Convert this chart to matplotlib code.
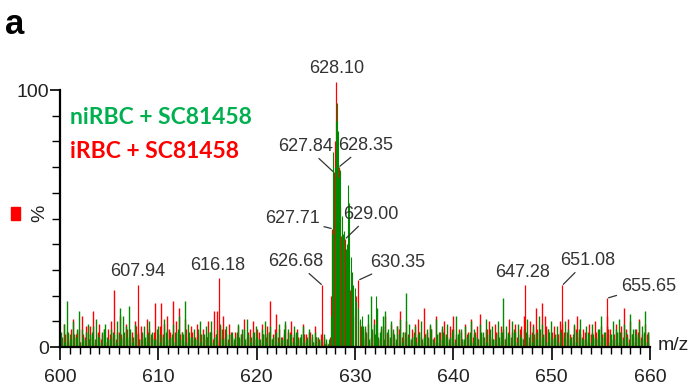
import numpy as np
import matplotlib
matplotlib.use("Agg")
import matplotlib.pyplot as plt
from matplotlib.ticker import MultipleLocator, FixedLocator

# baseline noise, one value every 0.3 m/z starting at 600.1 (% relative intensity)
mz_grid = 600.1 + 0.3 * np.arange(200)
# lower-level noise in between, starting at 600.25
mz_fill = 600.25 + 0.3 * np.arange(200)

red_noise = [
    4, 9, 6, 3, 11, 5, 7, 12, 4, 8,
    8, 14, 3, 9, 5, 2, 7, 10, 22, 6,
    12, 4, 9, 3, 6, 10, 5, 8, 3, 11,
    7, 4, 17, 5, 17, 9, 12, 6, 18, 10,
    15, 6, 11, 4, 8, 3, 9, 5, 7, 4,
    10, 6, 14, 14, 8, 12, 5, 9, 4, 6,
    8, 5, 11, 4, 7, 10, 3, 6, 9, 5,
    8, 18, 5, 13, 7, 4, 9, 6, 10, 5,
    7, 3, 9, 5, 6, 4, 8, 3, 5, 4,
    2, 1, 0, 0, 0, 0, 0, 0, 0, 0,
    0, 0, 0, 7, 9, 4, 11, 6, 3, 8,
    12, 5, 9, 4, 8, 14, 6, 10, 3, 7,
    9, 11, 4, 15, 6, 8, 3, 12, 5, 7,
    10, 4, 8, 12, 5, 7, 3, 9, 6, 11,
    5, 8, 13, 4, 7, 10, 3, 9, 6, 8,
    7, 4, 11, 6, 9, 3, 8, 12, 5, 10,
    9, 15, 6, 17, 12, 7, 4, 8, 5, 10,
    9, 6, 11, 4, 8, 12, 5, 7, 3, 9,
    6, 10, 4, 8, 5, 12, 7, 3, 9, 6,
    8, 15, 5, 10, 4, 7, 11, 5, 9, 6,
]

green_noise = [
    6, 9, 18, 5, 10, 4, 14, 7, 3, 9,
    5, 8, 11, 4, 6, 9, 3, 7, 5, 10,
    15, 12, 8, 16, 4, 9, 6, 3, 8, 5,
    10, 6, 3, 8, 5, 11, 7, 4, 9, 6,
    12, 6, 18, 9, 4, 7, 3, 10, 5, 8,
    6, 10, 4, 7, 9, 3, 8, 5, 6, 4,
    9, 5, 7, 11, 4, 6, 8, 3, 7, 10,
    5, 8, 4, 6, 9, 3, 10, 7, 5, 8,
    6, 4, 8, 3, 7, 5, 6, 4, 3, 5,
    3, 2, 0, 0, 0, 0, 0, 0, 0, 0,
    0, 0, 0, 8, 13, 20, 9, 15, 6, 12,
    14, 7, 10, 5, 8, 11, 6, 21, 9, 4,
    8, 5, 10, 4, 7, 9, 3, 11, 6, 8,
    5, 9, 4, 7, 12, 6, 3, 8, 5, 10,
    7, 4, 9, 6, 11, 5, 8, 3, 10, 6,
    19, 8, 5, 10, 6, 9, 4, 7, 11, 5,
    8, 6, 12, 9, 5, 7, 10, 4, 8, 6,
    5, 10, 7, 4, 9, 6, 11, 3, 8, 5,
    9, 4, 7, 12, 6, 8, 5, 10, 7, 11,
    6, 9, 4, 13, 7, 5, 10, 8, 14, 6,
]

red_fill = [
    3, 5, 2, 7, 4, 6, 2, 5, 8, 3,
    4, 2, 6, 3, 7, 2, 5, 4, 3, 6,
    5, 3, 7, 2, 4, 8, 3, 5, 2, 6,
    4, 6, 3, 8, 5, 2, 7, 4, 6, 3,
    5, 2, 7, 3, 6, 4, 2, 5, 3, 4,
    6, 3, 5, 2, 4, 7, 3, 6, 2, 5,
    3, 5, 2, 6, 4, 3, 7, 2, 5, 4,
    6, 3, 7, 4, 2, 5, 3, 6, 4, 2,
    4, 2, 5, 3, 6, 2, 4, 3, 2, 1,
    1, 0, 0, 0, 0, 0, 0, 0, 0, 0,
    0, 0, 3, 5, 2, 6, 4, 3, 7, 2,
    5, 3, 6, 2, 7, 4, 3, 5, 2, 6,
    4, 6, 2, 5, 3, 7, 4, 2, 6, 3,
    5, 2, 7, 3, 4, 6, 2, 5, 3, 4,
    6, 3, 5, 2, 7, 4, 3, 6, 2, 5,
    3, 5, 2, 6, 4, 7, 3, 5, 2, 6,
    4, 7, 3, 5, 8, 2, 6, 3, 5, 4,
    6, 3, 5, 2, 7, 4, 3, 6, 2, 5,
    3, 6, 2, 5, 4, 7, 3, 5, 2, 6,
    4, 7, 3, 5, 2, 6, 4, 3, 5, 2,
]

green_fill = [
    4, 2, 6, 3, 5, 7, 2, 4, 6, 3,
    6, 3, 5, 2, 7, 4, 3, 6, 2, 5,
    3, 6, 4, 7, 2, 5, 3, 6, 4, 2,
    5, 3, 7, 2, 4, 6, 3, 5, 2, 7,
    3, 5, 2, 6, 4, 3, 7, 2, 5, 4,
    6, 2, 5, 3, 7, 4, 2, 5, 3, 6,
    4, 7, 3, 5, 2, 6, 4, 3, 5, 2,
    6, 3, 5, 2, 4, 7, 3, 5, 2, 6,
    3, 5, 2, 4, 3, 2, 4, 2, 1, 1,
    1, 0, 0, 0, 0, 0, 0, 0, 0, 0,
    0, 0, 4, 6, 3, 7, 5, 4, 8, 3,
    6, 4, 7, 3, 5, 2, 6, 4, 3, 5,
    2, 6, 3, 5, 4, 7, 2, 5, 3, 6,
    4, 3, 6, 2, 5, 7, 3, 4, 6, 2,
    5, 3, 6, 4, 2, 7, 3, 5, 4, 6,
    3, 6, 4, 7, 2, 5, 3, 6, 4, 2,
    5, 3, 7, 4, 2, 6, 3, 5, 2, 7,
    4, 6, 3, 5, 2, 7, 4, 3, 6, 2,
    5, 3, 7, 4, 6, 2, 5, 3, 6, 4,
    3, 6, 2, 5, 7, 4, 3, 6, 2, 5,
]

# isotope cluster and labelled peaks
red_mz = [607.94, 616.18, 626.68, 627.45, 627.60, 627.71, 627.84, 627.92, 628.00,
          628.10, 628.20, 628.35, 628.45, 628.60, 628.70, 628.81, 628.90, 629.00,
          629.10, 629.20, 629.35, 629.50, 629.65, 629.80, 629.95, 630.10, 630.35,
          630.50, 630.65, 630.80, 647.28, 651.08, 655.65]
red_int = [24, 27, 24, 4, 20, 46, 68, 62, 80,
           103, 72, 70, 55, 43, 38, 40, 30, 42,
           34, 25, 30, 22, 18, 15, 12, 20, 26,
           10, 8, 6, 24, 24, 19]

green_mz = [627.40, 627.53, 627.69, 627.80, 627.95, 628.05, 628.13, 628.25, 628.40,
            628.50, 628.64, 628.75, 628.92, 629.05, 629.15, 629.26, 629.42, 629.55,
            629.66, 629.80, 630.00, 630.15, 630.30, 630.50, 630.68, 630.85, 632.09]
green_int = [3, 12, 44, 76, 70, 88, 95, 84, 66,
             69, 51, 44, 45, 38, 40, 63, 56, 35,
             29, 24, 23, 18, 15, 11, 12, 8, 20]

labelled = [628.10, 627.84, 628.35, 627.71, 629.00, 626.68, 630.35,
            607.94, 616.18, 647.28, 651.08, 655.65]
# text offsets in pixels from the peak tip; leader line when flagged
label_offsets = [(0, 14, False), (-28, 26, True), (27, 22, True), (-40, 10, True),
                 (26, 25, True), (-27, 24, True), (39, 18, True),
                 (0, 14, False), (-1, 12, False), (-2, 13, False),
                 (25, 25, True), (41, 12, True)]

RED = "#ff0000"
GREEN = "#008a00"
TXT = "#333333"

fig = plt.figure(figsize=(6.92, 3.89), dpi=100)
ax = fig.add_axes([60 / 692, 42 / 389, 590 / 692, 272.4 / 389])

ax.vlines(mz_fill, 0, red_fill, color=RED, lw=1.0, zorder=2)
ax.vlines(mz_fill, 0, green_fill, color=GREEN, lw=1.0, zorder=2)
ax.vlines(mz_grid, 0, red_noise, color=RED, lw=1.0, zorder=2)
ax.vlines(mz_grid, 0, green_noise, color=GREEN, lw=1.0, zorder=3)
ax.vlines(red_mz, 0, red_int, color=RED, lw=0.9, zorder=3)
ax.vlines(green_mz, 0, green_int, color=GREEN, lw=0.8, zorder=3.5)

peak_lookup = dict(zip(red_mz, red_int))
peak_lookup.update({m: v for m, v in zip(green_mz, green_int) if m not in peak_lookup})
for mz, (dx, dy, leader) in zip(labelled, label_offsets):
    arrow = dict(arrowstyle="-", color=TXT, lw=0.9, shrinkA=1, shrinkB=1) if leader else None
    ax.annotate(f"{mz:.2f}", xy=(mz, peak_lookup[mz]), xytext=(dx, dy),
                textcoords="offset pixels", ha="center", va="center",
                fontsize=13, family="Liberation Sans", color=TXT,
                arrowprops=arrow, zorder=5)

ax.set_xlim(600, 660)
ax.set_ylim(0, 106)
for s in ("top", "right"):
    ax.spines[s].set_visible(False)
ax.spines["left"].set_bounds(0, 100)
for s in ("left", "bottom"):
    ax.spines[s].set_linewidth(1.6)
    ax.spines[s].set_color("black")
    ax.spines[s].set_zorder(4)

ax.xaxis.set_major_locator(MultipleLocator(10))
ax.xaxis.set_minor_locator(MultipleLocator(1))
ax.yaxis.set_major_locator(FixedLocator([0, 100]))
ax.yaxis.set_minor_locator(MultipleLocator(10))
ax.tick_params(axis="x", which="major", length=9, width=1.2, pad=7,
               labelsize=14, labelcolor="#222222")
ax.tick_params(axis="x", which="minor", length=5, width=1.0)
ax.tick_params(axis="y", which="major", length=7, width=1.2, pad=1,
               labelsize=14, labelcolor="#222222")
ax.tick_params(axis="y", which="minor", length=6, width=1.0)
for lab in ax.get_xticklabels() + ax.get_yticklabels():
    lab.set_family("Liberation Sans")

fig.text(673 / 692, 1 - 345 / 389, "m/z", fontsize=14, family="Liberation Sans",
         color="#222222", ha="center", va="center")
fig.text(40 / 692, 1 - 213 / 389, "%", fontsize=14, family="Liberation Sans",
         color="#222222", ha="center", va="center", rotation=90)
fig.text(15 / 692, 1 - 25 / 389, "a", fontsize=25, fontweight="bold",
         family="Liberation Sans", ha="center", va="center")
fig.patches.append(plt.Rectangle((11 / 692, 1 - 220 / 389), 9 / 692, 13 / 389,
                                 transform=fig.transFigure, color=RED))

fig.text(70 / 692, 1 - 117 / 389, "niRBC + SC81458", fontsize=16.5, fontweight="bold",
         family="Lato", color="#00b050", ha="left", va="center")
fig.text(70 / 692, 1 - 152 / 389, "iRBC + SC81458", fontsize=16.5, fontweight="bold",
         family="Lato", color=RED, ha="left", va="center")

fig.savefig("out.png", dpi=100)
